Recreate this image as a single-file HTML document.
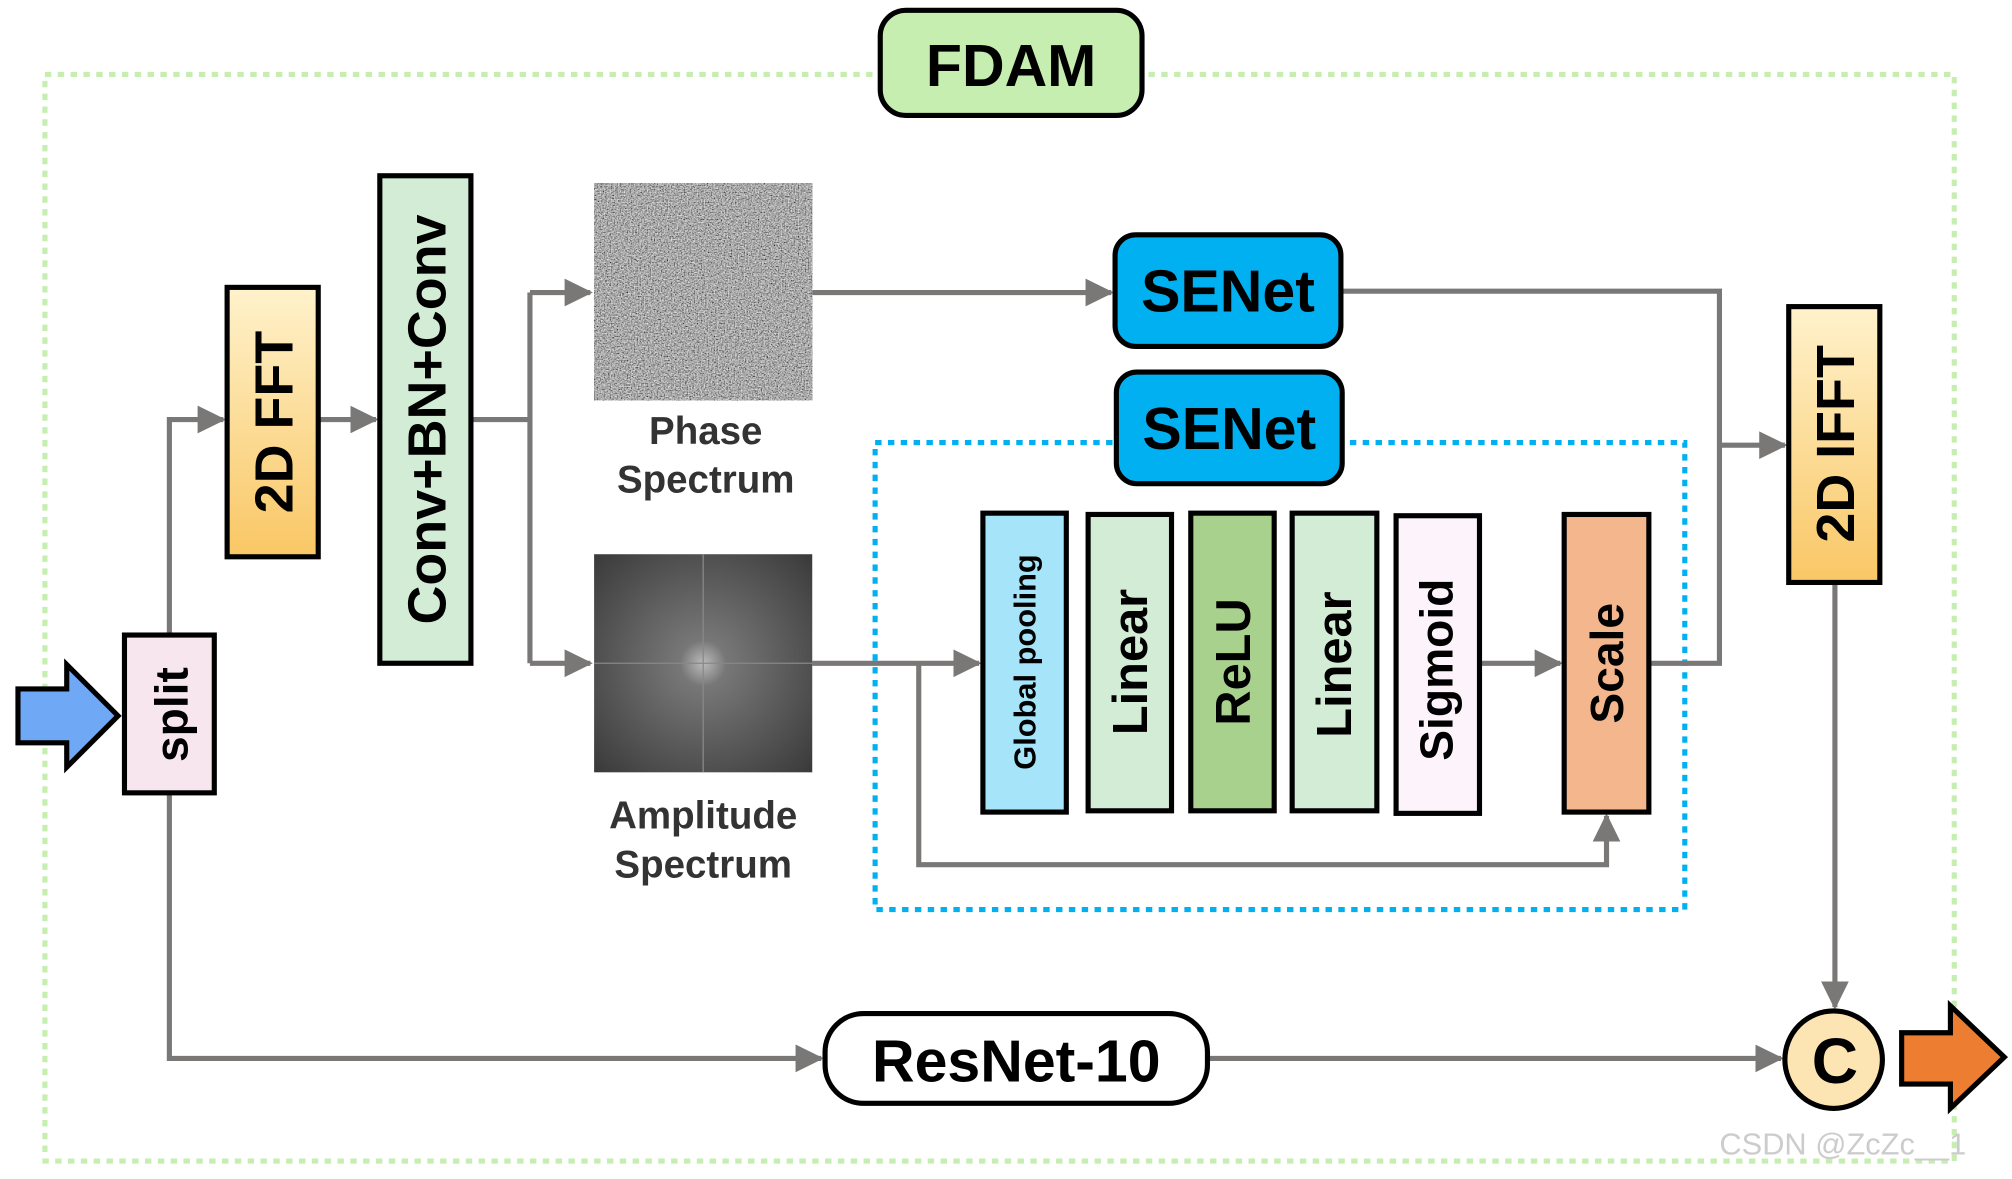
<!DOCTYPE html>
<html><head><meta charset="utf-8"><style>html,body{margin:0;padding:0;background:#fff}svg{display:block}</style></head><body>
<svg width="2012" height="1179" viewBox="0 0 1568 919" preserveAspectRatio="none" xmlns="http://www.w3.org/2000/svg" font-family="Liberation Sans, DejaVu Sans, sans-serif" font-weight="bold">
<defs>
<marker id="a" markerWidth="6" markerHeight="6" refX="5" refY="3" orient="auto" markerUnits="strokeWidth"><path d="M0,0.3 L5.5,3 L0,5.7 Z" fill="#7a7777"/></marker>
<linearGradient id="y" x1="0" y1="0" x2="0" y2="1"><stop offset="0" stop-color="#fff2cc"/><stop offset="1" stop-color="#f9c765"/></linearGradient>
<radialGradient id="amp" cx="0.5" cy="0.5" r="0.7"><stop offset="0" stop-color="#bbb"/><stop offset="0.15" stop-color="#777"/><stop offset="1" stop-color="#3a3a3a"/></radialGradient>
<filter id="n" x="0" y="0" width="1" height="1"><feTurbulence type="fractalNoise" baseFrequency="0.9" numOctaves="2" seed="3"/><feColorMatrix type="saturate" values="0"/><feComponentTransfer><feFuncR type="linear" slope="1.6" intercept="-0.4"/><feFuncG type="linear" slope="1.6" intercept="-0.4"/><feFuncB type="linear" slope="1.6" intercept="-0.4"/><feFuncA type="linear" slope="0" intercept="1"/></feComponentTransfer></filter>
</defs>
<rect x="35" y="58" width="1488" height="847" fill="none" stroke="#c6eeb0" stroke-width="4" stroke-dasharray="5,5"/>
<rect x="682" y="345" width="631" height="364" fill="none" stroke="#00b0f0" stroke-width="4" stroke-dasharray="5,5"/>
<g fill="none" stroke="#7a7777" stroke-width="4">
<path d="M132,495 V327 H174" marker-end="url(#a)"/>
<path d="M248,327 H293" marker-end="url(#a)"/>
<path d="M367,327 H413"/>
<path d="M413,228 V517"/>
<path d="M413,228 H460" marker-end="url(#a)"/>
<path d="M413,517 H460" marker-end="url(#a)"/>
<path d="M633,228 H866" marker-end="url(#a)"/>
<path d="M1045,227 H1340 V517 H1285"/>
<path d="M1340,347 H1391" marker-end="url(#a)"/>
<path d="M633,517 H763" marker-end="url(#a)"/>
<path d="M716,517 V674 H1252 V636" marker-end="url(#a)"/>
<path d="M1153,517 H1216" marker-end="url(#a)"/>
<path d="M1430,454 V785" marker-end="url(#a)"/>
<path d="M132,618 V825 H640" marker-end="url(#a)"/>
<path d="M941,825 H1388" marker-end="url(#a)"/>
</g>
<rect x="686" y="8" width="204" height="82" rx="20" fill="#c6eeb0" stroke="#000" stroke-width="4"/>
<text x="788" y="67" font-size="46" text-anchor="middle">FDAM</text>
<path d="M14,537 H52 V518 L92,558 L52,598 V579 H14 Z" fill="#6fa8f5" stroke="#000" stroke-width="4"/>
<path d="M1482,805 H1520 V784 L1562,824 L1520,864 V845 H1482 Z" fill="#ed7d31" stroke="#000" stroke-width="4"/>
<g stroke="#000" stroke-width="4">
<rect x="97" y="495" width="70" height="123" fill="#f8e6ee"/>
<rect x="177" y="224" width="71" height="210" fill="url(#y)"/>
<rect x="296" y="137" width="71" height="380" fill="#d3ecd6"/>
<rect x="1394" y="239" width="71" height="215" fill="url(#y)"/>
<rect x="869" y="183" width="176" height="87" rx="16" fill="#00b0f0"/>
<rect x="870" y="290" width="176" height="87" rx="16" fill="#00b0f0"/>
<rect x="766" y="400" width="65" height="233" fill="#a6e4fa"/>
<rect x="848" y="401" width="65" height="231" fill="#d3ecd6"/>
<rect x="928" y="400" width="65" height="232" fill="#a9d18e"/>
<rect x="1007" y="400" width="66" height="232" fill="#d3ecd6"/>
<rect x="1088" y="402" width="65" height="232" fill="#fdf4fb"/>
<rect x="1219" y="401" width="66" height="232" fill="#f4b68c"/>
<rect x="643" y="790" width="298" height="70" rx="30" fill="#fff"/>
<circle cx="1429" cy="826" r="38" fill="#fde5b3"/>
</g>
<rect x="463" y="143" width="170" height="169" fill="#777" filter="url(#n)"/>
<rect x="463" y="432" width="170" height="170" fill="url(#amp)"/>
<path d="M463,517 H633 M548,432 V602" stroke="#888" stroke-width="1"/>
<g text-anchor="middle" fill="#333" font-size="30">
<text x="550" y="346">Phase</text><text x="550" y="384">Spectrum</text>
<text x="548" y="646">Amplitude</text><text x="548" y="684">Spectrum</text>
</g>
<g fill="#000" text-anchor="middle">
<text transform="translate(146,557) rotate(-90)" font-size="36">split</text>
<text transform="translate(228,329) rotate(-90)" font-size="42">2D FFT</text>
<text transform="translate(347,327) rotate(-90)" font-size="42">Conv+BN+Conv</text>
<text transform="translate(1445,346) rotate(-90)" font-size="42">2D IFFT</text>
<text x="957" y="243" font-size="46">SENet</text>
<text x="958" y="350" font-size="46">SENet</text>
<text transform="translate(807,516) rotate(-90)" font-size="24">Global pooling</text>
<text transform="translate(894,516) rotate(-90)" font-size="38">Linear</text>
<text transform="translate(974,516) rotate(-90)" font-size="38">ReLU</text>
<text transform="translate(1053,518) rotate(-90)" font-size="38">Linear</text>
<text transform="translate(1132,522) rotate(-90)" font-size="36">Sigmoid</text>
<text transform="translate(1265,517) rotate(-90)" font-size="36">Scale</text>
<text x="792" y="843" font-size="46">ResNet-10</text>
<text x="1430" y="844" font-size="50">C</text>
</g>
<text x="1340" y="900" font-size="24" font-weight="normal" fill="#ccc">CSDN @ZcZc__1</text>
</svg>
</body></html>
